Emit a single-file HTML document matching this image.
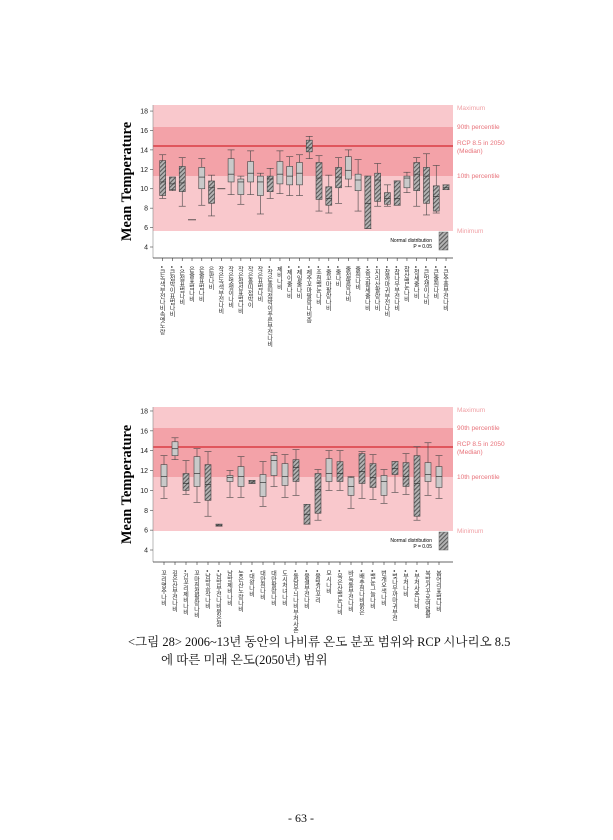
<!DOCTYPE html>
<html><head><meta charset="utf-8"><style>
body{margin:0;background:#fff;width:613px;height:840px;overflow:hidden;position:relative;font-family:"Liberation Sans","Noto Sans CJK KR",sans-serif}
.lab{position:absolute;writing-mode:vertical-rl;font-size:6px;line-height:7px;color:#222;font-family:"Noto Sans CJK KR",sans-serif;white-space:nowrap}
.cap{position:absolute;font-family:"Liberation Serif","Noto Serif CJK SC","Noto Sans CJK KR",serif;font-size:12.5px;color:#111;white-space:nowrap}
</style></head><body>
<svg id="s" width="613" height="840" style="position:absolute;left:0;top:0">
<defs><pattern id="h" width="3" height="3" patternUnits="userSpaceOnUse" patternTransform="rotate(45)"><rect width="3" height="3" fill="#b4b4b4"/><rect width="1.1" height="3" fill="#5a5a5a"/></pattern></defs>
</svg>
<div id="labs"></div>
<div class="cap" style="left:128px;top:632px">&lt;그림 28&gt; 2006~13년 동안의 나비류 온도 분포 범위와 RCP 시나리오 8.5</div>
<div class="cap" style="left:161px;top:650px">에 따른 미래 온도(2050년) 범위</div>
<div class="cap" style="left:288px;top:811px;font-size:12px">- 63 -</div>
<script>
(function(){
const s=document.getElementById('s'),L=document.getElementById('labs');
function el(t,a,tx){const e=document.createElementNS('http://www.w3.org/2000/svg',t);for(const k in a)e.setAttribute(k,a[k]);if(tx!=null)e.textContent=tx;s.appendChild(e);return e}
function chart(c){
 const Y=v=>c.y4-(v-4)*c.u;
 el('rect',{x:153,y:c.top,width:300,height:c.minY-c.top,fill:'#f9c8cc'});
 el('rect',{x:153,y:c.p90,width:300,height:c.p10-c.p90,fill:'#f3a2a8'});
 el('line',{x1:153,x2:453,y1:c.med,y2:c.med,stroke:'#d42a30','stroke-width':1.3});
 const lc='#e8727a';
 el('text',{x:457,y:c.top+5,'font-size':6.5,fill:'#f0a0a5'},'Maximum');
 el('text',{x:457,y:c.p90+2,'font-size':6.5,fill:lc},'90th percentile');
 el('text',{x:457,y:c.med-1,'font-size':6.5,fill:lc},'RCP 8.5 in 2050');
 el('text',{x:457,y:c.med+7,'font-size':6.5,fill:lc},'(Median)');
 el('text',{x:457,y:c.p10+2,'font-size':6.5,fill:lc},'10th percentile');
 el('text',{x:457,y:c.minY+2,'font-size':6.5,fill:'#f0a0a5'},'Minimum');
 el('line',{x1:153,x2:153,y1:c.top,y2:c.axis,stroke:'#888','stroke-width':0.6});
 for(let v=4;v<=18;v+=2){el('line',{x1:150,x2:153,y1:Y(v),y2:Y(v),stroke:'#444','stroke-width':.6});el('text',{x:148,y:Y(v)+2.5,'font-size':7,'text-anchor':'end',fill:'#222'},v)}
 el('line',{x1:153,x2:453,y1:c.axis,y2:c.axis,stroke:'#333','stroke-width':.7});
 el('text',{x:0,y:0,'font-size':14.5,'font-weight':'bold','font-family':'Liberation Serif,serif','text-anchor':'middle',transform:`translate(131,${(c.top+c.axis)/2}) rotate(-90)`},'Mean Temperature');
 el('text',{x:432,y:c.minY+11,'font-size':5,'text-anchor':'end'},'Normal distribution');
 el('text',{x:432,y:c.minY+17,'font-size':5,'text-anchor':'end'},'P = 0.05');
 el('rect',{x:439,y:c.minY+1,width:9,height:18,fill:'url(#h)',stroke:'#666','stroke-width':.5});
 c.d.forEach((b,i)=>{
  const x=c.x0+i*c.dx,w=6;
  el('line',{x1:x,x2:x,y1:c.axis,y2:c.axis+3,stroke:'#333','stroke-width':.6});
  const [h,lo,q1,md,q3,hi]=b;
  if(q1==null){el('line',{x1:x-4,x2:x+4,y1:Y(lo),y2:Y(lo),stroke:'#333','stroke-width':.8});return}
  el('line',{x1:x,x2:x,y1:Y(hi),y2:Y(lo),stroke:'#444','stroke-width':.6});
  el('line',{x1:x-3.5,x2:x+3.5,y1:Y(hi),y2:Y(hi),stroke:'#444','stroke-width':.6});
  el('line',{x1:x-3.5,x2:x+3.5,y1:Y(lo),y2:Y(lo),stroke:'#444','stroke-width':.6});
  el('rect',{x:x-w/2,y:Y(q3),width:w,height:Math.max(1.5,Y(q1)-Y(q3)),fill:h?'url(#h)':'#c9c9c9',stroke:'#444','stroke-width':.6});
  el('line',{x1:x-w/2,x2:x+w/2,y1:Y(md),y2:Y(md),stroke:'#333','stroke-width':.7});
 });
 c.names.forEach((n,i)=>{const d=document.createElement('div');d.className='lab';d.textContent=n;d.style.left=(c.x0+i*c.dx-3.5)+'px';d.style.top=(c.axis+8)+'px';L.appendChild(d)});
}
const topData=[[1,9,9.3,10.7,12.9,13.5],[1,9.8,9.9,10.5,11.2,11.2],[1,8.2,9.7,10.6,12.3,13.2],[0,6.8],[0,8.3,10,11.2,12.2,13.1],[1,7.2,8.5,10.1,10.8,11.4],[0,10],[0,9.4,10.7,11.5,13.1,14],[0,8.4,9.4,10.7,11,11.3],[0,9.4,10.7,11.6,12.8,13.9],[0,7.4,9.3,10.7,11.3,11.6],[1,9,9.7,11,11.3,12.1],[0,9.5,10.5,11.5,12.8,13.9],[0,9.3,10.4,11.3,12.3,13.3],[0,9.3,10.4,11.6,12.7,13.5],[1,13.1,13.8,14.2,15,15.4],[1,7.7,8.9,11.1,12.7,13.4],[1,7.5,8.3,9,10.2,11.4],[1,8.5,10.1,11.2,12.2,13.2],[0,10.2,11,11.9,13.3,14],[0,7.7,9.8,10.9,11.5,13],[1,5.9,5.9,8.5,11.3,11.3],[1,8.2,8.7,10.9,11.6,12.6],[1,8.2,8.4,9,9.6,10.4],[1,8.3,8.3,9,10.8,10.8],[0,9.6,10.1,11.1,11.3,11.7],[1,8.2,9.8,11.5,12.7,13.2],[1,7.3,8.5,11.3,12.2,13.6],[1,7.5,7.7,9.2,10.3,12.4],[1,9.9,9.9,10.1,10.4,10.4]];
const botData=[[0,9.2,10.4,11.4,12.6,13.5],[0,13.1,13.5,14.2,14.9,15.3],[1,9.6,10,10.7,11.7,13],[0,8.8,10.4,11.7,13.4,14.2],[1,7.4,9,10.6,12.6,13.9],[1,6.4,6.4,6.5,6.6,6.6],[0,9.3,10.9,11.3,11.5,12],[0,9.3,10.4,11.4,12.4,13.4],[1,10.7,10.7,10.85,11,11],[0,8.4,9.4,10.8,11.6,12.9],[0,10.4,11.5,13,13.5,13.8],[0,9.3,10.5,11.4,12.7,13.6],[1,9.5,10.9,12.3,13.1,14.1],[1,6.6,6.6,7.6,8.6,8.6],[1,7,7.7,10.1,11.7,12.1],[0,10,10.9,11.7,13.2,14],[1,10,10.9,11.7,12.9,14],[0,8.2,9.5,10.4,11.3,11.4],[1,9.2,10.7,11.9,13.7,13.9],[1,9.1,10.3,11.3,12.7,13.6],[0,8.7,9.5,10.9,11.5,12.1],[1,9.8,11.6,12.2,12.9,12.9],[1,9.6,10.4,11.4,12.8,13.7],[1,7,7.4,10.7,13.5,14.4],[0,9.5,10.9,11.6,12.8,14.8],[0,9.2,10.3,11.4,12.4,13.5]];
const tn=['• 큰녹색부전나비속멧노랑','• 큰점박이표범나비','• 은점표범나비','은줄표범나비','은줄표범나비','은판나비','작은녹색부전나비','작은멋쟁이나비','작은점선표범나비','작은홍띠점박이','작은표범나비','• 작은홍띠점박이푸른부전나비','제비나비','• 제이줄나비','• 제일줄나비','• 제주꼬마팔랑나비종','• 조흰뱀눈나비','• 줄꼬마팔랑나비','• 줄나비','줄점팔랑나비','줄흰나비','• 중국황세줄나비','• 지리산팔랑나비','• 참까마귀부전나비','• 참나무부전나비','참산뱀눈나비','• 청세줄나비','• 큰멋쟁이나비','• 큰줄흰나비','• 큰주홍부전나비'];
const bn=['꼬리명주나비','깊은산부전나비','• 긴꼬리제비나비','꼬마흰점팔랑나비','• 남방공작나비','• 남방부전나비붉은점','남방제비나비','높은산노랑나비','• 대왕나비','대만흰나비','대만팔랑나비','도시처녀나비','• 돌담무늬나비부처사촌','• 물결부전나비','• 물빛긴꼬리','모시나비','• 묵은산뱀눈나비','바둑돌부전나비','• 배추흰나비붉은','• 뱀눈그늘나비','번개오색나비','• 벚나무까마귀부전','• 부처나비','• 부처사촌나비','북방거꾸로여덟팔','봄어리표범나비'];
chart({top:105,p90:127,med:146,p10:176,minY:231,axis:258,y4:247,u:9.71,x0:162.7,dx:9.77,d:topData,names:tn});
chart({top:407,p90:428,med:447,p10:477,minY:531,axis:562,y4:550,u:9.93,x0:164,dx:11,d:botData,names:bn});
})();
</script>
</body></html>
